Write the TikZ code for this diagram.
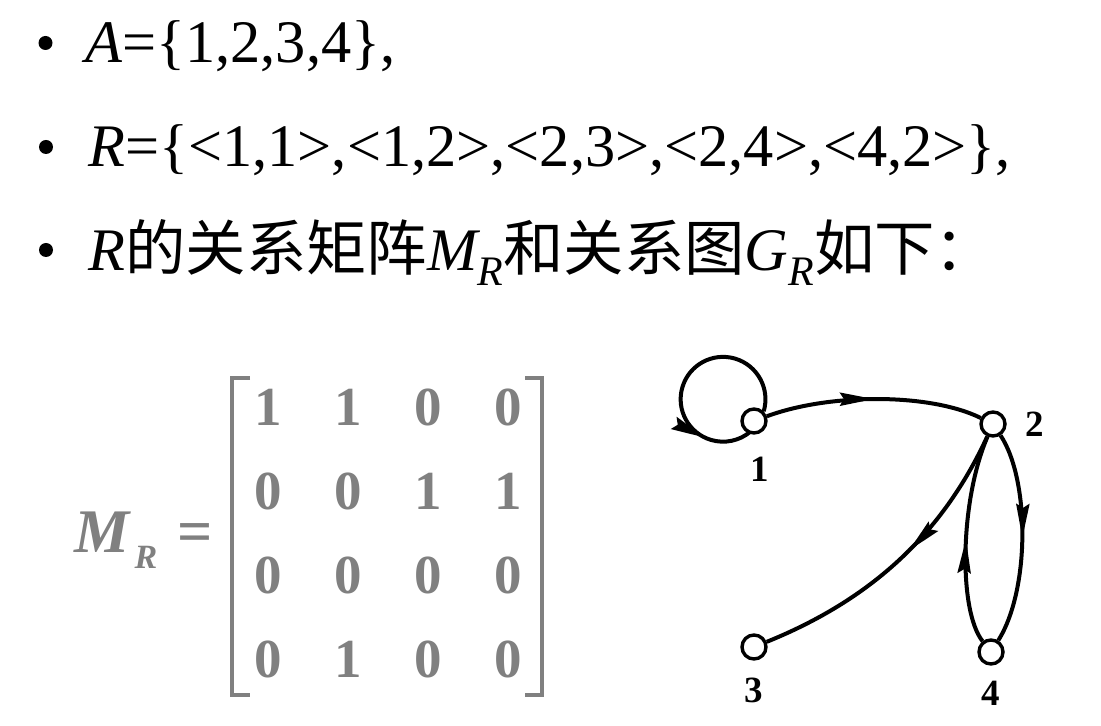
\documentclass[tikz,border=0pt]{standalone}
\usepackage{fontspec}
\setmainfont{Liberation Serif}
\newfontfamily\cjk{Noto Sans CJK SC}
\usetikzlibrary{arrows.meta,decorations.markings}
\definecolor{matgray}{RGB}{128,128,128}
\newcommand{\subR}{\raisebox{-7.5pt}{\fontsize{21}{21}\selectfont\itshape R}}

\begin{document}
\begin{tikzpicture}[x=0.5pt, y=0.5pt,
    bul/.style={circle, fill, inner sep=0, minimum size=7pt},
    line/.style={anchor=base west, inner sep=0, font=\fontsize{30.2}{36}\selectfont},
    mat/.style={matgray, inner sep=0, font=\fontsize{27.5}{42}\selectfont\bfseries},
    mlab/.style={matgray, anchor=base west, inner sep=0, font=\fontsize{31}{34}\selectfont\bfseries},
    brk/.style={matgray, line width=1.7pt},
    vert/.style={circle, draw, line width=1.7pt, fill=white, inner sep=0, minimum size=12pt},
    lbl/.style={inner sep=0, font=\fontsize{18.5}{20}\selectfont\bfseries},
    link/.style={line width=2pt, postaction={decorate},
      decoration={markings, mark=at position #1 with {\arrow{Stealth[length=17pt,width=6.5pt,inset=2pt]}}}},
    link/.default=0.5,
  ]
  \useasboundingbox (0,0) rectangle (1101,-726);

  % bullet lines
  \node[bul] (b1) at (45.5,-43) {};
  \node[bul] (b2) at (46,-147) {};
  \node[bul] (b3) at (46,-250) {};
  \node[line] (l1) at (85,-63) {\itshape A\upshape=\{1,2,3,4\},};
  \node[line] (l2) at (88,-167) {{\itshape R}=\{<1,1>,<1,2>,<2,3>,<2,4>,<4,2>\},};
  \node[line] (l3) at (88,-271) {{\itshape R}{\cjk 的关系矩阵}{\itshape M\subR}{\cjk 和关系图}{\itshape G\subR}{\cjk 如下：}};

  % relation matrix
  \node[mlab] (mr) at (74,-552) {\itshape M\hspace{2.5pt}\raisebox{-8pt}{\fontsize{17}{17}\selectfont R}\hspace{10pt}\upshape =};
  \node[mat] (mrx) at (388,-534.6) {\setlength\tabcolsep{13.125pt}%
    \begin{tabular}{@{}cccc@{}}
      1 & 1 & 0 & 0 \\
      0 & 0 & 1 & 1 \\
      0 & 0 & 0 & 0 \\
      0 & 1 & 0 & 0
    \end{tabular}};
  \draw[brk] (250,-378) -- (232,-378) -- (232,-695) -- (250,-695);
  \draw[brk] (525,-378) -- (542,-378) -- (542,-695) -- (525,-695);

  % relation graph
  \node[vert, label={[lbl, label distance=11pt, xshift=3pt]below:1}] (v1) at (754,-421) {};
  \node[vert, label={[lbl, label distance=9pt]right:2}] (v2) at (993,-424) {};
  \node[vert, label={[lbl, label distance=8.5pt]below:3}] (v3) at (754,-647) {};
  \node[vert, label={[lbl, label distance=7.5pt]below:4}] (v4) at (991,-652) {};

  \draw[link=0.8] (v1.north east) arc[start angle=-16.5, end angle=310, radius=42.4];
  \draw[link] (v1) .. controls (830,-393) and (930,-393) .. (v2);
  \draw[link=0.45] (v2) .. controls (942,-535) and (870,-600) .. (v3);
  \draw[link] (v2) .. controls (1030,-480) and (1030,-590) .. (v4);
  \draw[link] (v4) .. controls (958,-610) and (960,-500) .. (v2);
\end{tikzpicture}
\end{document}
